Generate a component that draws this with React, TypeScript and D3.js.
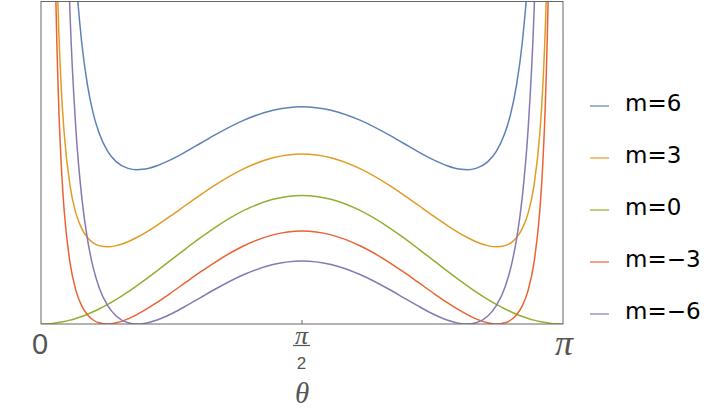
import React from "react";
import * as d3 from "d3";

// θ in degrees (axis shows 0, π/2, π)
const thetaDeg = [0, 2, 3, 4, 5, 6, 7, 8, 10, 12, 14, 16, 18, 20, 23, 26, 30, 33, 35, 40, 45, 50, 55, 60, 70, 80, 90,
  100, 110, 120, 125, 130, 135, 140, 145, 147, 150, 154, 157, 160, 162, 164, 166, 168, 170, 172, 173, 174, 175, 176, 177, 178, 180];

const seriesNames = ["m=6", "m=3", "m=0", "m=\u22123", "m=\u22126"];
const seriesColors = ["#5E81B5", "#E19C24", "#8FB032", "#EB6235", "#8778B3"];

const m6 = [null, 29791, 13378, 7641, 4983, 3539, 2670, 2106, 1446, 1090, 878.5, 744.2, 655.2, 594.6, 536.8, 504.1, 484, 480, 481, 492.4, 512, 536.1, 562.1, 588, 634, 665, 676,
  665, 634, 588, 562.1, 536.1, 512, 492.4, 481, 480, 484, 504.1, 536.8, 594.6, 655.2, 744.2, 878.5, 1090, 1446, 2106, 2670, 3539, 4983, 7641, 13378, 29791, null];
const m3 = [null, 7510, 3407, 1971, 1308, 948.2, 732, 592.3, 430.6, 345.5, 297.2, 268.9, 252.4, 243.7, 240, 243.7, 256, 269, 279, 307.1, 338, 370.1, 401.8, 432, 483.4, 517.2, 529,
  517.2, 483.4, 432, 401.8, 370.1, 338, 307.1, 279, 269, 256, 243.7, 240, 243.7, 252.4, 268.9, 297.2, 345.5, 430.6, 592.3, 732, 948.2, 1308, 1971, 3407, 7510, null];
const m0 = [0, 0.49, 1.1, 1.95, 3.04, 4.37, 5.94, 7.75, 12.06, 17.29, 23.41, 30.39, 38.19, 46.79, 61.07, 76.86, 100, 118.65, 131.6, 165.3, 200, 234.7, 268.4, 300, 353.2, 387.9, 400,
  387.9, 353.2, 300, 268.4, 234.7, 200, 165.3, 131.6, 118.65, 100, 76.86, 61.07, 46.79, 38.19, 30.39, 23.41, 17.29, 12.06, 7.75, 5.94, 4.37, 3.04, 1.95, 1.1, 0.49, 0];
const mMinus3 = [null, 7270, 3167, 1732, 1068, 708.2, 492, 352.4, 190.6, 105.5, 57.21, 28.85, 12.45, 3.73, 0.02, 3.7, 16, 29, 38.96, 67.06, 98, 130.1, 161.8, 192, 243.4, 277.2, 289,
  277.2, 243.4, 192, 161.8, 130.1, 98, 67.06, 38.96, 29, 16, 3.7, 0.02, 3.73, 12.45, 28.85, 57.21, 105.5, 190.6, 352.4, 492, 708.2, 1068, 1732, 3167, 7270, null];
const mMinus6 = [null, 29310, 12900, 7161, 4502, 3059, 2190, 1626, 965.9, 610.1, 398.4, 264.4, 175.2, 114.6, 56.84, 24.2, 4, 0.02, 1.02, 12.4, 32, 56.09, 82.05, 108, 154, 185.1, 196,
  185.1, 154, 108, 82.05, 56.09, 32, 12.4, 1.02, 0.02, 4, 24.2, 56.84, 114.6, 175.2, 264.4, 398.4, 610.1, 965.9, 1626, 2190, 3059, 4502, 7161, 12900, 29310, null];

const seriesValues = [m6, m3, m0, mMinus3, mMinus6];

const W = 708;
const H = 413;
const L = 41, R = 563, T = 1.5, B = 324;

export default function App() {
  const x = d3.scaleLinear().domain([0, 180]).range([L, R]);
  const y = d3.scaleLinear().domain([0, 1003]).range([B, T]);

  const makePath = (vals: (number | null)[]) =>
    d3.line<number | null>()
      .defined((d) => d !== null)
      .x((_, i) => x(thetaDeg[i]))
      .y((d) => y(d as number))
      .curve(d3.curveMonotoneX)(vals) || "";

  const textColor = "#555555";
  const legendY0 = 106;
  const legendStep = 52;

  return (
    <svg width={W} height={H} style={{ position: "absolute", left: 0, top: 0, background: "#fff" }}>
      <defs>
        <clipPath id="plotClip">
          <rect x={L} y={T} width={R - L} height={B - T} />
        </clipPath>
      </defs>
      <g clipPath="url(#plotClip)">
        {seriesValues.map((vals, k) => (
          <path key={k} d={makePath(vals)} fill="none" stroke={seriesColors[k]} strokeWidth={1.5} />
        ))}
      </g>
      <rect x={L} y={T} width={R - L} height={B - T} fill="none" stroke="#666" strokeWidth={1} />
      {/* tick at π/2 */}
      <line x1={x(90)} x2={x(90)} y1={B} y2={B - 4} stroke="#666" strokeWidth={1} />
      {/* tick labels */}
      <text x={40} y={354} textAnchor="middle" fontFamily="Liberation Sans, Arial, sans-serif" fontSize={29} fill={textColor}>0</text>
      <text x={x(90) - 0.5} y={344} textAnchor="middle" fontFamily="Liberation Serif, Times New Roman, serif" fontStyle="italic" fontSize={26} fill={textColor}>π</text>
      <line x1={x(90) - 9} x2={x(90) + 8} y1={345.5} y2={345.5} stroke={textColor} strokeWidth={1.2} />
      <text x={x(90) - 0.5} y={369} textAnchor="middle" fontFamily="Liberation Sans, Arial, sans-serif" fontSize={17} fill={textColor}>2</text>
      <text x={x(180) + 1} y={355} textAnchor="middle" fontFamily="Liberation Serif, Times New Roman, serif" fontStyle="italic" fontSize={36} fill={textColor}>π</text>
      {/* axis label */}
      <text x={x(90)} y={403} textAnchor="middle" fontFamily="Liberation Serif, Times New Roman, serif" fontStyle="italic" fontSize={29} fill={textColor}>θ</text>
      {/* legend */}
      {seriesNames.map((name, k) => (
        <g key={name}>
          <line x1={590} x2={609} y1={legendY0 + k * legendStep} y2={legendY0 + k * legendStep} stroke={seriesColors[k]} strokeWidth={1.2} />
          <text x={625} y={legendY0 + k * legendStep + 5} fontFamily="DejaVu Sans, sans-serif" fontSize={23} fill="#000">{name}</text>
        </g>
      ))}
    </svg>
  );
}
